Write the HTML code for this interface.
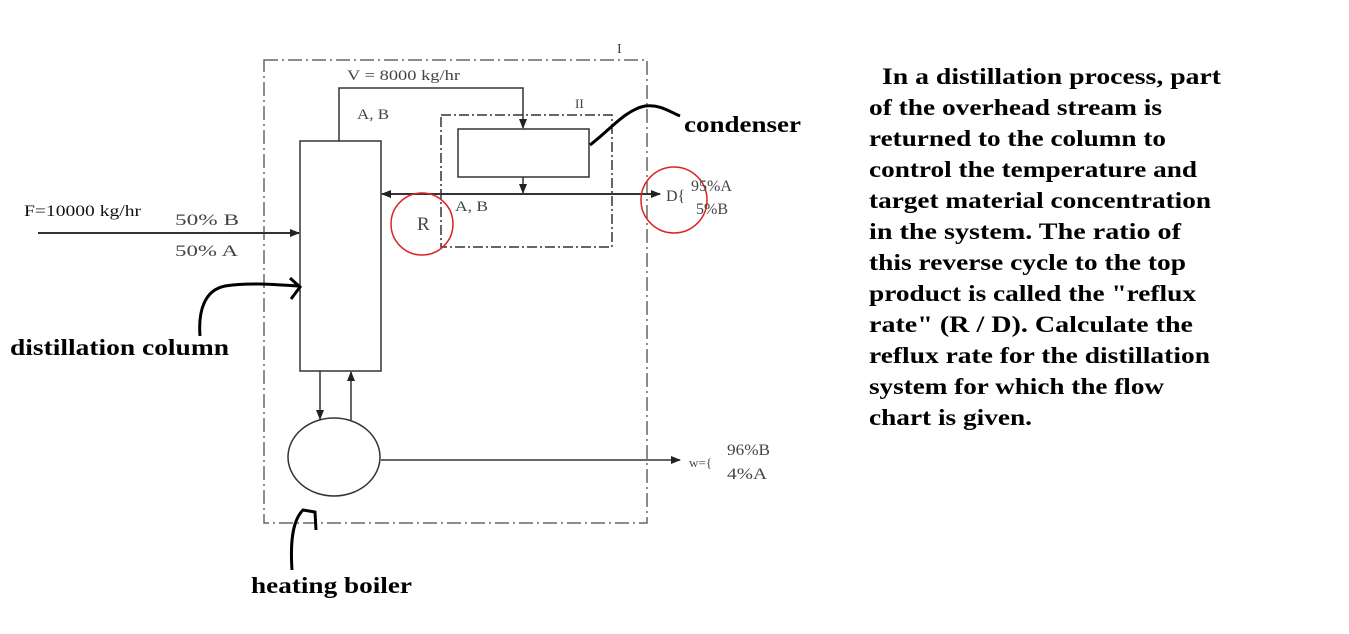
<!DOCTYPE html>
<html><head><meta charset="utf-8"><style>
html,body{margin:0;padding:0;background:#fff;}
svg{display:block;}
</style></head><body>
<svg width="1349" height="634" viewBox="0 0 1349 634" xmlns="http://www.w3.org/2000/svg">
<defs>
<marker id="ar" markerWidth="10" markerHeight="8" refX="9" refY="4" orient="auto" markerUnits="userSpaceOnUse"><path d="M0,0 L10,4 L0,8 z" fill="#222"/></marker>
</defs>
<g fill="none" stroke="#333" stroke-width="1.5">
<rect x="264" y="60" width="383" height="463" stroke="#666" stroke-dasharray="14,4,2,4"/>
<rect x="441" y="115" width="171" height="132" stroke="#333" stroke-dasharray="10,3,2,3"/>
<rect x="300" y="141" width="81" height="230"/>
<rect x="458" y="129" width="131" height="48"/>
<polyline points="339,141 339,88 523,88 523,128" marker-end="url(#ar)"/>
<line x1="523" y1="177" x2="523" y2="193" marker-end="url(#ar)"/>
<line x1="523" y1="194" x2="382" y2="194" marker-end="url(#ar)" stroke-width="2"/>
<line x1="523" y1="194" x2="660" y2="194" marker-end="url(#ar)" stroke-width="2"/>
<line x1="38" y1="233" x2="299" y2="233" marker-end="url(#ar)" stroke-width="2"/>
<ellipse cx="334" cy="457" rx="46" ry="39"/>
<line x1="320" y1="371" x2="320" y2="419" marker-end="url(#ar)"/>
<line x1="351" y1="420" x2="351" y2="372" marker-end="url(#ar)"/>
<line x1="381" y1="460" x2="680" y2="460" marker-end="url(#ar)"/>
<circle cx="422" cy="224" r="31" stroke="#d22" stroke-width="1.5"/>
<circle cx="674" cy="200" r="33" stroke="#d22" stroke-width="1.5"/>
<path d="M590,145 C610,130 625,110 645,106 C660,104 670,112 680,116" stroke="#000" stroke-width="3"/>
<path d="M200,336 C198,310 205,290 225,286 C250,282 280,285 298,286 M290,278 L300,287 L291,299" stroke="#000" stroke-width="3"/>
<path d="M292,570 C290,540 293,520 303,510 L315,512 L316,530" stroke="#000" stroke-width="3"/>
</g>
<g font-family="Liberation Serif, serif" fill="#444" font-size="15">
<text x="617" y="53" font-size="14">I</text>
<text x="575" y="108" font-size="13">II</text>
<text x="347" y="80" textLength="113" lengthAdjust="spacingAndGlyphs">V = 8000 kg/hr</text>
<text x="357" y="119" textLength="32" lengthAdjust="spacingAndGlyphs">A, B</text>
<text x="455" y="211" textLength="33" lengthAdjust="spacingAndGlyphs">A, B</text>
<text x="417" y="230" font-size="19">R</text>
<text x="666" y="201" font-size="16">D{</text>
<text x="691" y="191" font-size="16">95%A</text>
<text x="696" y="214" font-size="16">5%B</text>
<text x="24" y="216" fill="#111" font-size="16" textLength="117" lengthAdjust="spacingAndGlyphs">F=10000 kg/hr</text>
<text x="175" y="225" font-size="16" textLength="64" lengthAdjust="spacingAndGlyphs">50% B</text>
<text x="175" y="256" font-size="16" textLength="63" lengthAdjust="spacingAndGlyphs">50% A</text>
<text x="689" y="467" font-size="13">w={</text>
<text x="727" y="455" font-size="16" textLength="43" lengthAdjust="spacingAndGlyphs">96%B</text>
<text x="727" y="479" font-size="16" textLength="40" lengthAdjust="spacingAndGlyphs">4%A</text>
</g>
<g font-family="Liberation Serif, serif" font-weight="bold" fill="#000" font-size="23">
<text x="684" y="132" textLength="117" lengthAdjust="spacingAndGlyphs">condenser</text>
<text x="10" y="355" textLength="219" lengthAdjust="spacingAndGlyphs">distillation column</text>
<text x="251" y="593" textLength="161" lengthAdjust="spacingAndGlyphs">heating boiler</text>
</g>
<g font-family="Liberation Serif, serif" font-weight="bold" fill="#000" font-size="23">
<text x="882" y="84" textLength="339" lengthAdjust="spacingAndGlyphs">In a distillation process, part</text>
<text x="869" y="115" textLength="293" lengthAdjust="spacingAndGlyphs">of the overhead stream is</text>
<text x="869" y="146" textLength="297" lengthAdjust="spacingAndGlyphs">returned to the column to</text>
<text x="869" y="177" textLength="328" lengthAdjust="spacingAndGlyphs">control the temperature and</text>
<text x="869" y="208" textLength="342" lengthAdjust="spacingAndGlyphs">target material concentration</text>
<text x="869" y="239" textLength="312" lengthAdjust="spacingAndGlyphs">in the system.  The ratio of</text>
<text x="869" y="270" textLength="317" lengthAdjust="spacingAndGlyphs">this reverse cycle to the top</text>
<text x="869" y="301" textLength="327" lengthAdjust="spacingAndGlyphs">product is called the "reflux</text>
<text x="869" y="332" textLength="324" lengthAdjust="spacingAndGlyphs">rate" (R / D).  Calculate the</text>
<text x="869" y="363" textLength="341" lengthAdjust="spacingAndGlyphs">reflux rate for the distillation</text>
<text x="869" y="394" textLength="295" lengthAdjust="spacingAndGlyphs">system for which the flow</text>
<text x="869" y="425" textLength="163" lengthAdjust="spacingAndGlyphs">chart is given.</text>
</g>
</svg>
</body></html>
